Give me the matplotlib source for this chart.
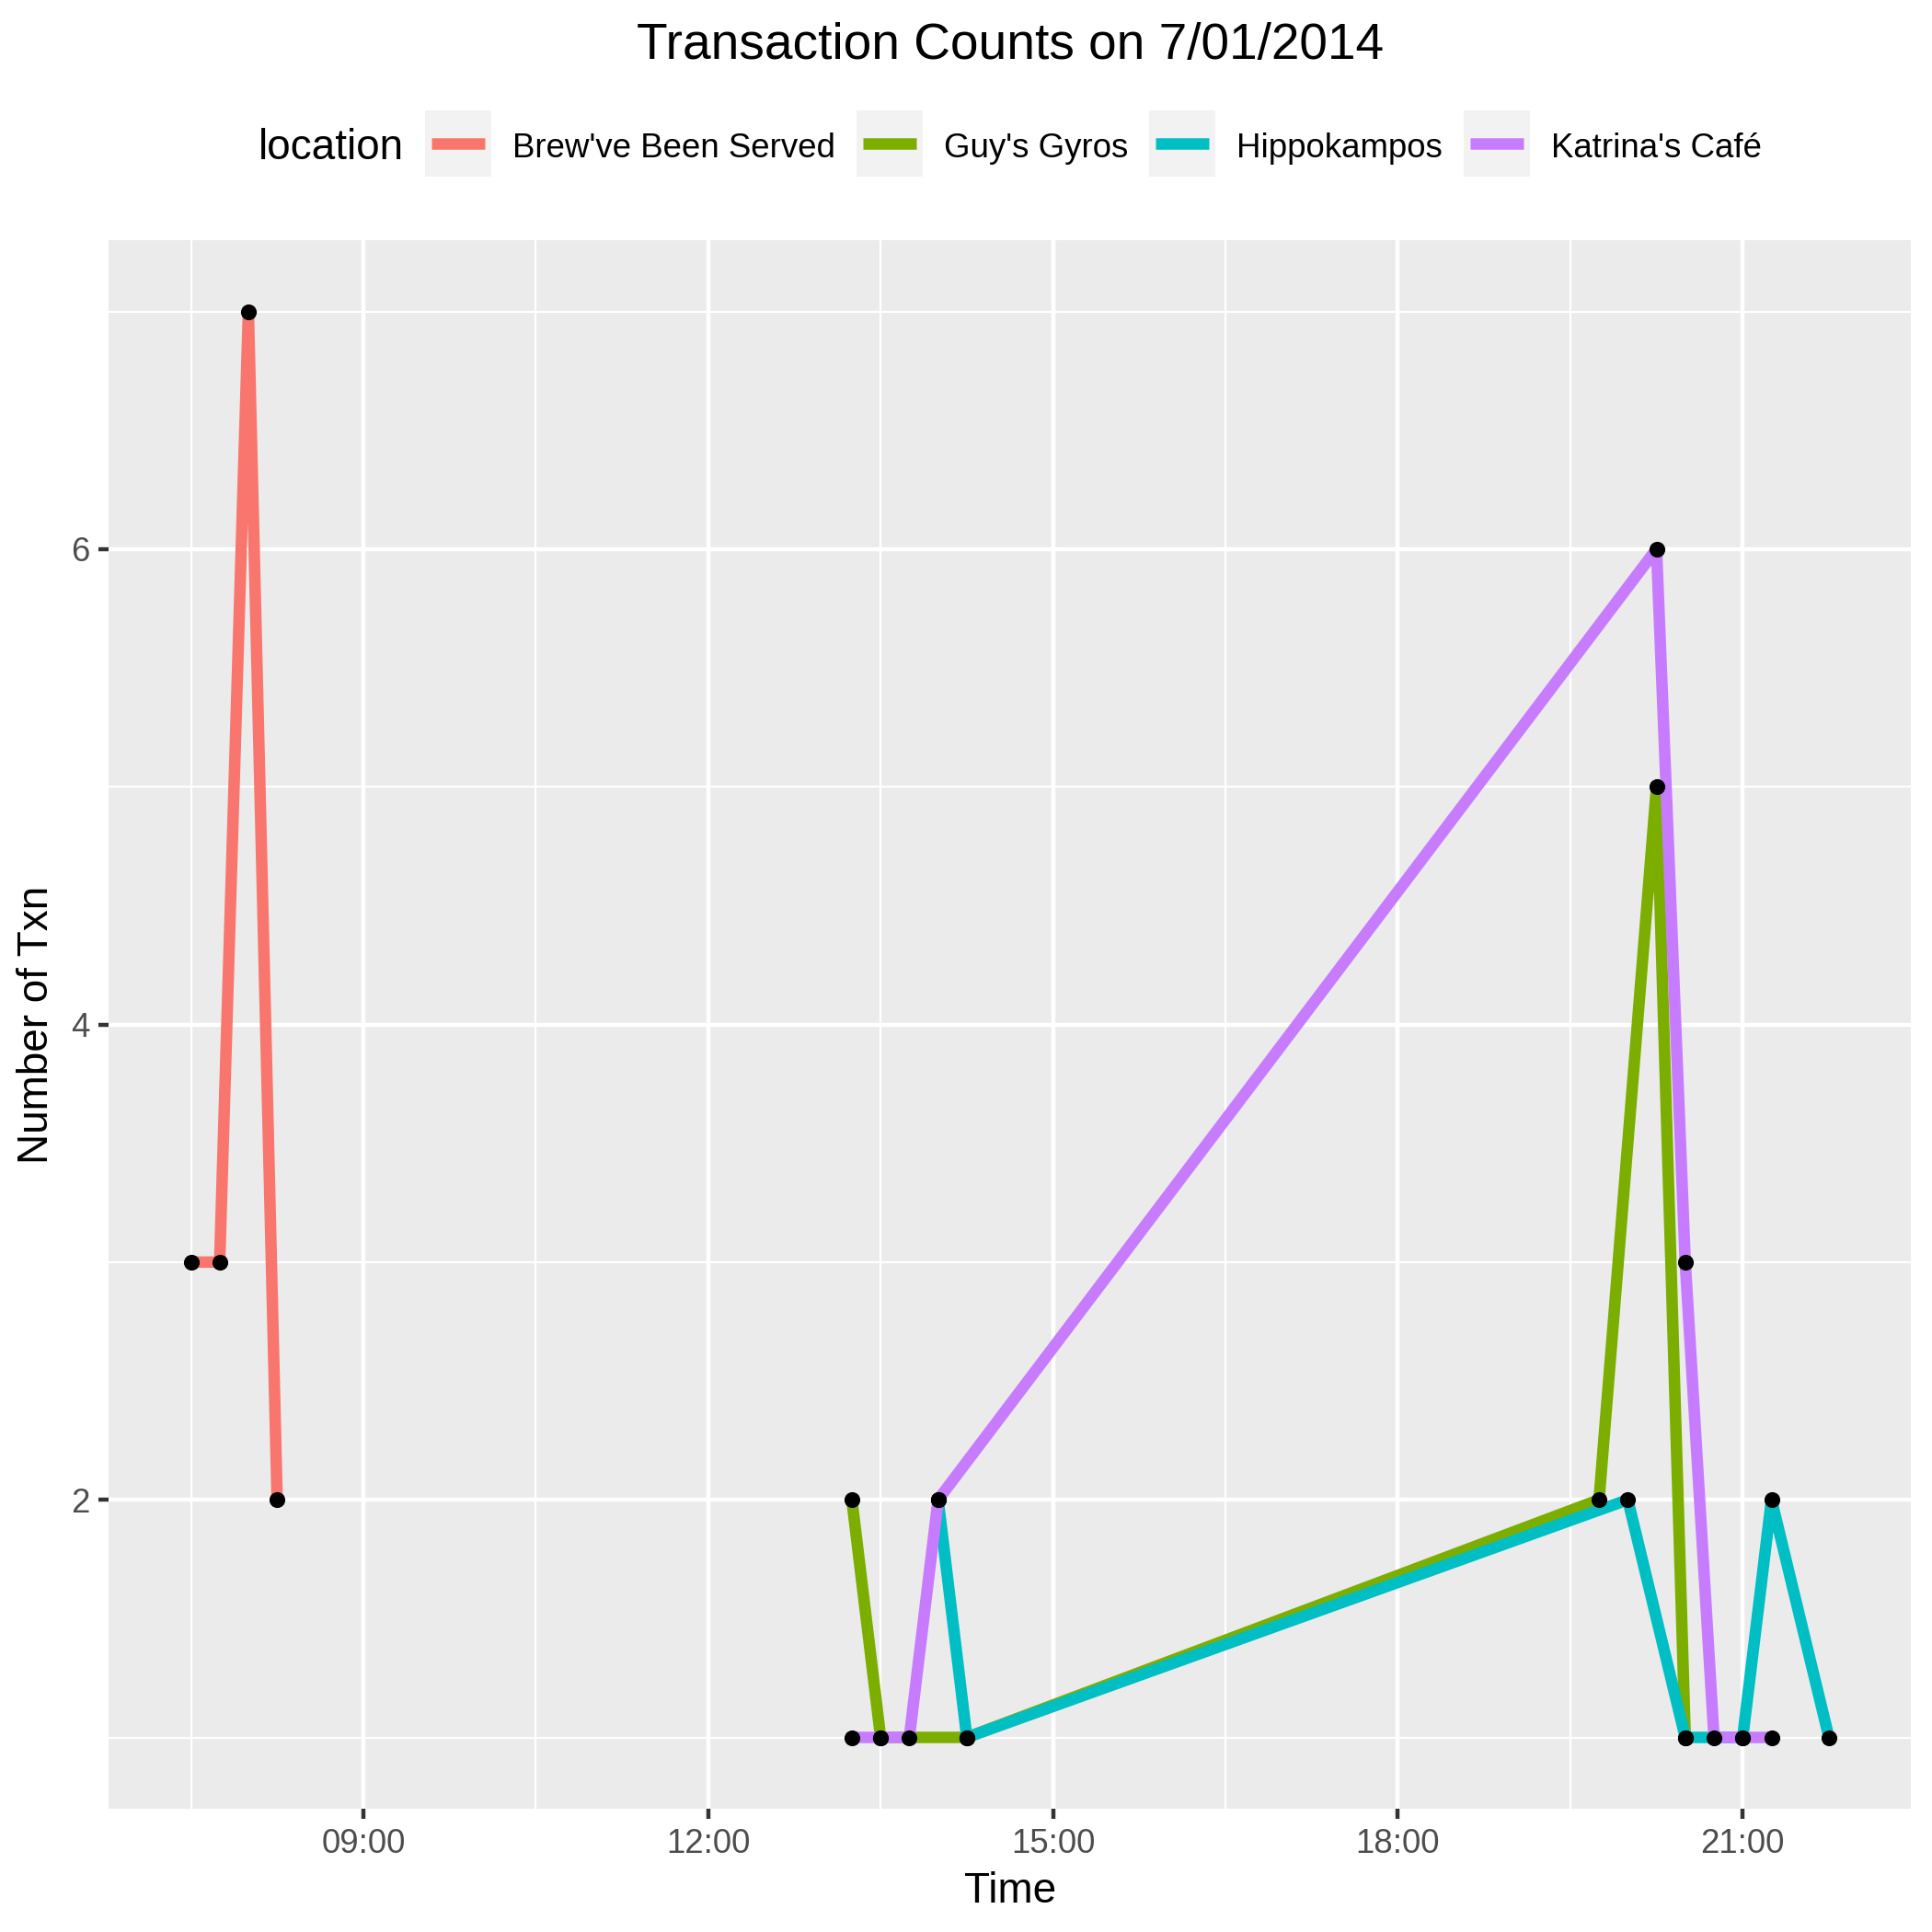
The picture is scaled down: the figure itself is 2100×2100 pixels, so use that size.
import matplotlib
matplotlib.use("Agg")
import matplotlib.pyplot as plt
from matplotlib.patches import Rectangle
from matplotlib.lines import Line2D

plt.rcParams['font.family'] = ['Liberation Sans', 'DejaVu Sans']

# ---------------- data ----------------
locations = ["Brew've Been Served", "Guy's Gyros", "Hippokampos", "Katrina's Café"]
colors = ["#F8766D", "#7CAE00", "#00BFC4", "#C77CFF"]

brew_times = ["07:30", "07:45", "08:00", "08:15"]
brew_counts = [3, 3, 7, 2]

guy_times = ["13:15", "13:30", "14:15", "19:45", "20:15", "20:30"]
guy_counts = [2, 1, 1, 2, 5, 1]

hippo_times = ["14:00", "14:15", "20:00", "20:30", "21:00", "21:15", "21:45"]
hippo_counts = [2, 1, 2, 1, 1, 2, 1]

katrina_times = ["13:15", "13:30", "13:45", "14:00", "20:15", "20:30", "20:45", "21:00", "21:15"]
katrina_counts = [1, 1, 1, 2, 6, 3, 1, 1, 1]

x_tick_labels = ["09:00", "12:00", "15:00", "18:00", "21:00"]
y_tick_values = [2, 4, 6]

title = "Transaction Counts on 7/01/2014"
x_title = "Time"
y_title = "Number of Txn"
legend_title = "location"


def to_hours(s):
    h, m = s.split(":")
    return int(h) + int(m) / 60.0


series_times = [brew_times, guy_times, hippo_times, katrina_times]
series_counts = [brew_counts, guy_counts, hippo_counts, katrina_counts]

# ---------------- figure ----------------
W = H = 2100
fig = plt.figure(figsize=(7, 7), dpi=300)
L, R, T, B = 118.5, 2077.0, 261.0, 1966.0
ax = fig.add_axes([L / W, 1 - B / H, (R - L) / W, (B - T) / H])
ax.set_facecolor("#EBEBEB")
for s in ax.spines.values():
    s.set_visible(False)

LW = 3.0
for times, counts, col in zip(series_times, series_counts, colors):
    xs = [to_hours(t) for t in times]
    ax.plot(xs, counts, color=col, lw=LW, solid_joinstyle='round',
            solid_capstyle='butt', zorder=2)
for times, counts in zip(series_times, series_counts):
    xs = [to_hours(t) for t in times]
    ax.scatter(xs, counts, s=17, color='black', linewidths=0, zorder=3)

all_x = [to_hours(t) for ts in series_times for t in ts]
all_y = [c for cs in series_counts for c in cs]
xmin, xmax = min(all_x), max(all_x)
ymin, ymax = min(all_y), max(all_y)
xp = 0.05 * (xmax - xmin)
yp = 0.05 * (ymax - ymin)
ax.set_xlim(xmin - xp, xmax + xp)
ax.set_ylim(ymin - yp, ymax + yp)

xt = [to_hours(t) for t in x_tick_labels]
ax.set_xticks(xt)
ax.set_xticklabels(x_tick_labels)
step = xt[1] - xt[0]
ax.set_xticks([xt[0] - step / 2] + [a + step / 2 for a in xt[:-1]], minor=True)
ax.set_yticks(y_tick_values)
ax.set_yticklabels([str(v) for v in y_tick_values])
ax.set_yticks([y_tick_values[0] - 1] + [v + 1 for v in y_tick_values], minor=True)

ax.set_axisbelow(True)
ax.grid(which='major', color='white', lw=1.07)
ax.grid(which='minor', color='white', lw=0.53)
ax.tick_params(which='minor', length=0)
ax.tick_params(which='major', length=2.75, width=1.07, color='#333333',
               labelsize=8.8, labelcolor='#4D4D4D', pad=2.2)

cx = (L + R) / 2
fig.text(cx / W, 1 - 64 / H, title, fontsize=13.2, ha='center', va='baseline')
fig.text(cx / W, 1 - 2068 / H, x_title, fontsize=11, ha='center', va='baseline')
fig.text(40 / W, 1 - ((T + B) / 2) / H, y_title, fontsize=11, rotation=90,
         ha='center', va='center')

# ---------------- legend (ggplot-style, top, horizontal) ----------------
renderer = fig.canvas.get_renderer()
legend_cy = 156.0
key = 72.0
gap = 23.0

t_title = fig.text(0, 1 - (legend_cy + 17) / H, legend_title, fontsize=11,
                   ha='left', va='baseline')
wt = t_title.get_window_extent(renderer).width
label_texts = []
widths = []
for loc in locations:
    tt = fig.text(0, 1 - (legend_cy + 15) / H, loc, fontsize=8.8,
                  ha='left', va='baseline')
    label_texts.append(tt)
    widths.append(tt.get_window_extent(renderer).width)

total = wt + gap + sum(key + gap + w for w in widths) + gap * (len(widths) - 1)
x0 = cx - total / 2
t_title.set_x(x0 / W)
x = x0 + wt + gap
for tt, w, col in zip(label_texts, widths, colors):
    fig.patches.append(Rectangle((x / W, 1 - (legend_cy + key / 2) / H), key / W, key / H,
                                 transform=fig.transFigure, facecolor='#F2F2F2',
                                 edgecolor='none', figure=fig))
    fig.lines.append(Line2D([(x + 7) / W, (x + key - 7) / W],
                            [1 - legend_cy / H, 1 - legend_cy / H],
                            transform=fig.transFigure, color=col, lw=LW,
                            solid_capstyle='butt', figure=fig))
    x += key + gap
    tt.set_x(x / W)
    x += w + gap

fig.savefig("out.png", dpi=300, facecolor='white')
